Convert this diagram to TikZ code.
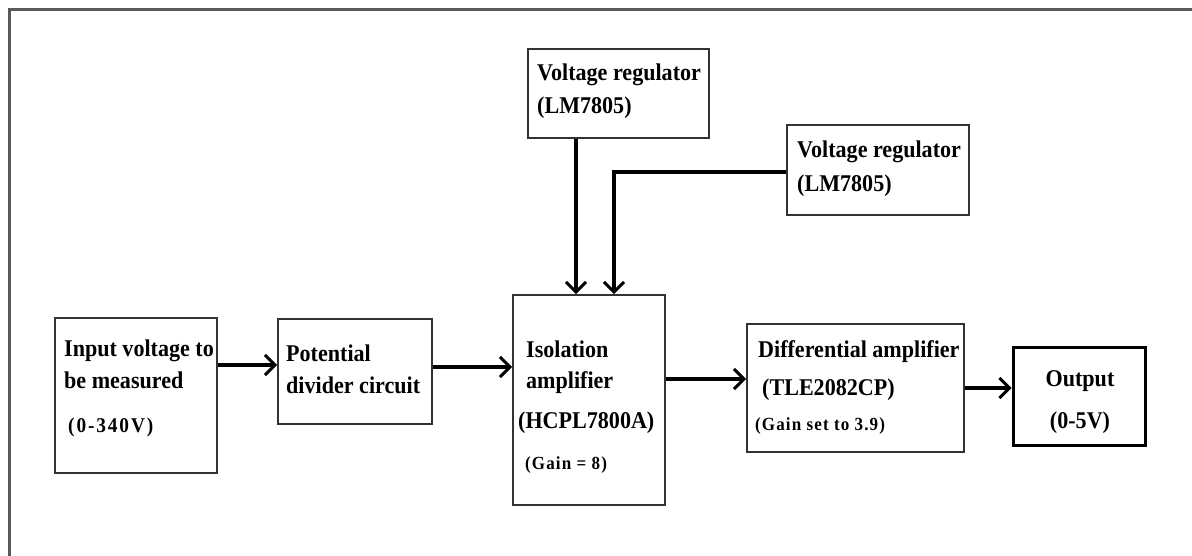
\documentclass[tikz,border=0pt]{standalone}
\usepackage{fontspec}
\setmainfont{Liberation Serif}[FakeStretch=0.92]
\usetikzlibrary{arrows.meta}
\begin{document}
\begin{tikzpicture}[x=1pt,y=-1pt,
  blk/.style={draw=black!80, line width=1.8pt, inner sep=0pt, rectangle},
  lbl/.style={anchor=base west, inner sep=0pt, font=\fontsize{24}{28}\selectfont\bfseries},
  lblc/.style={anchor=base, inner sep=0pt, font=\fontsize{24}{28}\selectfont\bfseries},
  sml/.style={anchor=base west, inner sep=0pt, font=\fontsize{18.5}{22}\selectfont\bfseries\addfontfeature{LetterSpace=6}},
  arr/.style={line width=3.2pt, -{Straight Barb[length=10pt,width=20pt,line width=3pt]}},
  wire/.style={line width=3.2pt}]
\useasboundingbox (0,0) rectangle (1192,556);
\clip (0,0) rectangle (1192,556);
\fill[white] (0,0) rectangle (1192,556);
% outer frame
\draw[black!65, line width=3pt] (9,600) -- (9,10) -- (1210,10);
% boxes
\node[blk, minimum width=162pt, minimum height=155pt] (inp) at (136,395.5) {};
\node[blk, minimum width=154pt, minimum height=105pt] (pot) at (355,371.5) {};
\node[blk, minimum width=181pt, minimum height=89pt] (vr1) at (618.5,93.5) {};
\node[blk, minimum width=182pt, minimum height=90pt] (vr2) at (878,170) {};
\node[blk, minimum width=152pt, minimum height=210pt] (iso) at (589,400) {};
\node[blk, minimum width=217pt, minimum height=128pt] (dif) at (855.5,388) {};
\node[blk, draw=black, line width=3pt, minimum width=132pt, minimum height=98pt] (out) at (1079,396) {};
% texts
\node[lbl] (t1) at (64,356) {Input voltage to};
\node[lbl] (t2) at (64,388) {be measured};
\node[sml, font=\fontsize{21}{24}\selectfont\bfseries\addfontfeature{LetterSpace=9}] (t3) at (68,432) {(0-340V)};
\node[lbl] (t4) at (286,361) {Potential};
\node[lbl] (t5) at (286,393) {divider circuit};
\node[lbl] (t6) at (537,81) {Voltage regulator};
\node[lbl] (t7) at (537,114) {(LM7805)};
\node[lbl] (t8) at (797,158) {Voltage regulator};
\node[lbl] (t9) at (797,192) {(LM7805)};
\node[lbl] (t10) at (526,357) {Isolation};
\node[lbl] (t11) at (526,388) {amplifier};
\node[lbl] (t12) at (518,428) {(HCPL7800A)};
\node[sml] (t13) at (525,469) {(Gain = 8)};
\node[lbl] (t14) at (758,357) {Differential amplifier};
\node[lbl] (t15) at (762,395) {(TLE2082CP)};
\node[sml] (t16) at (755,430) {(Gain set to 3.9)};
\node[lblc] (t17) at (1080,386) {Output};
\node[lblc] (t18) at (1080,428) {(0-5V)};
% connectors
\coordinate (a1) at ([yshift=30.5pt]inp.east);
\draw[arr] (a1) -- (a1 -| pot.west);
\coordinate (a2) at ([yshift=4.5pt]pot.east);
\draw[arr] (a2) -- (a2 -| iso.west);
\coordinate (a3) at ([yshift=21pt]iso.east);
\draw[arr] (a3) -- (a3 -| dif.west);
\coordinate (a4) at (dif.east);
\draw[arr] (a4) -- (a4 -| out.west);
\coordinate (v1) at ([xshift=-42.5pt]vr1.south);
\draw[arr] (v1) -- (v1 |- iso.north);
\coordinate (v2) at ([yshift=-2pt]vr2.west);
\coordinate (i2) at ([xshift=25pt]iso.north);
\draw[arr] (v2) -| (i2);
\end{tikzpicture}
\end{document}
